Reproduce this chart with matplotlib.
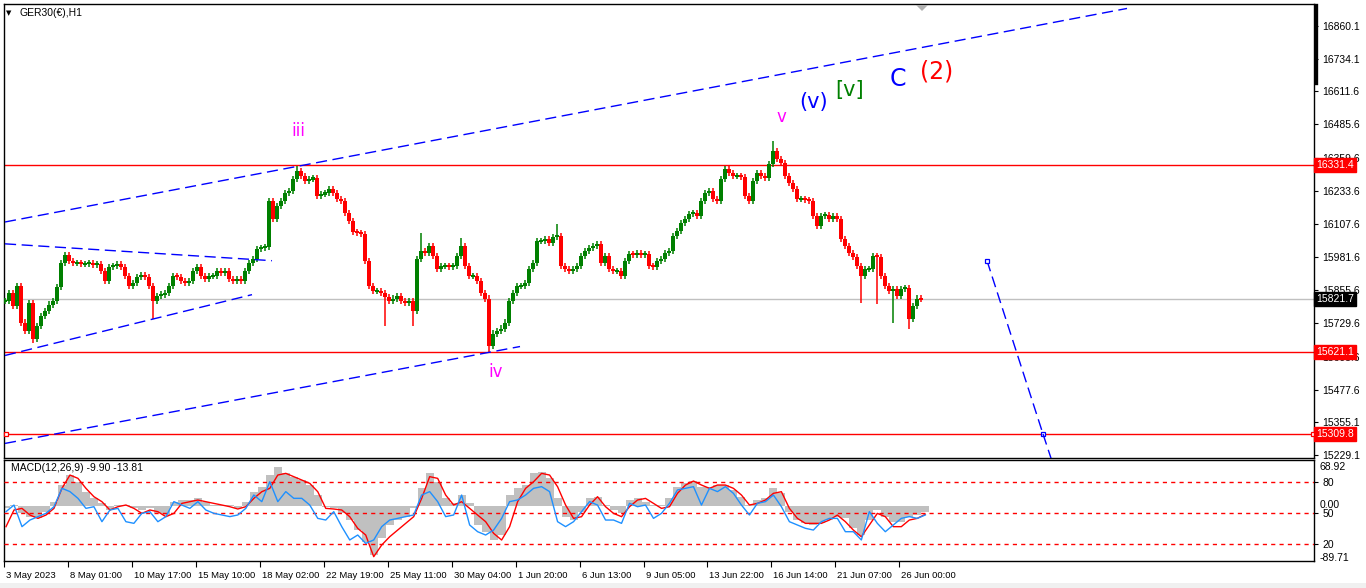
import numpy as np
import matplotlib
matplotlib.use("Agg")
import matplotlib.pyplot as plt
import matplotlib.transforms as mtransforms
from matplotlib.patches import Rectangle, Polygon
from matplotlib.lines import Line2D

plt.rcParams['font.family'] = ['Liberation Sans', 'DejaVu Sans']

# ---------------- data (4-hour aggregated closes) ----------------
closes = [
    15816, 15846, 15797, 15873, 15733, 15702, 15808, 15672, 15721, 15759,
    15778, 15801, 15816, 15869, 15960, 15990, 15968, 15960, 15960, 15956,
    15956, 15960, 15952, 15956, 15930, 15892, 15945, 15949, 15956, 15945,
    15911, 15873, 15884, 15907, 15914, 15907, 15873, 15816, 15835, 15839,
    15846, 15873, 15911, 15907, 15892, 15884, 15892, 15930, 15945, 15911,
    15899, 15911, 15911, 15930, 15922, 15930, 15899, 15892, 15899, 15892,
    15930, 15960, 15975, 16013, 16017, 16021, 16195, 16127, 16176, 16195,
    16225, 16233, 16278, 16309, 16290, 16271, 16278, 16282, 16214, 16221,
    16225, 16240, 16225, 16203, 16195, 16150, 16119, 16077, 16074, 16070,
    15968, 15873, 15854, 15854, 15846, 15831, 15816, 15824, 15835, 15816,
    15808, 15816, 15778, 15975, 16005, 15998, 16024, 15986, 15937, 15949,
    15949, 15945, 15949, 15986, 16024, 15949, 15911, 15911, 15892, 15846,
    15824, 15645, 15691, 15702, 15710, 15733, 15816, 15846, 15873, 15873,
    15884, 15937, 15960, 16043, 16043, 16051, 16036, 16059, 16062, 15949,
    15937, 15930, 15937, 15949, 15986, 16005, 16017, 16024, 16032, 15960,
    15986, 15937, 15930, 15930, 15911, 15968, 15994, 15990, 15998, 15990,
    15994, 15949, 15945, 15968, 15975, 15998, 16005, 16062, 16081, 16112,
    16127, 16146, 16150, 16138, 16195, 16225, 16233, 16203, 16195, 16278,
    16316, 16301, 16290, 16290, 16286, 16214, 16195, 16271, 16301, 16290,
    16282, 16335, 16385, 16354, 16339, 16290, 16263, 16240, 16203, 16203,
    16199, 16195, 16138, 16100, 16138, 16142, 16127, 16138, 16127, 16051,
    16024, 15998, 15983, 15949, 15911, 15937, 15937, 15986, 15983, 15911,
    15873, 15854, 15861, 15835, 15861, 15865, 15748, 15797, 15824, 15821.7,
]
spike_low_idx = [7, 37, 95, 102, 121, 214, 218, 222, 226]
spike_low_val = [15657, 15748, 15721, 15720, 15621, 15808, 15805, 15730, 15710]
spike_high_idx = [73, 104, 114, 138, 192]
spike_high_val = [16328, 16074, 16055, 16108, 16422]

macd_main = [
    -4.3, 1.1, -12.3, -17.6, -20.3, -9.6, 6.4, 33.1, 49.1, 38.4, 22.4, 11.7, 3.7, -6.9, 1.1,
    1.1, -4.3, -6.9, -4.3, -12.3, -15.0, 6.4, 9.1, 9.1, 11.7, 6.4, 1.1, 1.1, 1.1, -4.3,
    6.4, 22.4, 30.4, 49.1, 62.5, 51.8, 46.5, 41.1, 33.1, 17.1, -1.6, -4.3, -12.3, -23.0, -39.0,
    -57.7, -79.0, -52.3, -31.0, -23.0, -17.6, -4.3, 27.8, 51.8, 38.4, 11.7, 3.7, 17.1, 3.7,
    -31.0, -41.7, -55.0, -47.0, 17.1, 27.8, 33.1, 51.8, 54.5, 43.8, 11.7, -17.6, -23.0, -9.6,
    11.7, 14.4, 1.1, -6.9, -12.3, 9.1, 11.7, 6.4, 1.1, 1.1, 11.7, 30.4, 35.8, 39.5, 30.4, 30.4,
    33.1, 33.1, 25.1, 14.4, 1.1, 9.1, 11.7, 27.8, 19.8, -9.6, -23.0, -28.3, -31.0, -28.3, -23.0,
    -17.6, -20.3, -36.3, -47.0, -23.0, -6.9, -17.6, -25.6, -25.6, -17.6, -15.0, -9.9,
]
macd_signal = [
    -33.6, -6.9, -4.3, -15.0, -20.3, -15.0, -4.3, 27.8, 49.1, 43.8, 27.8, 14.4, 6.4, -6.9, -1.6,
    1.1, -4.3, -12.3, -6.9, -9.6, -17.6, -12.3, 3.7, 6.4, 9.1, 6.4, 3.7, 1.1, -1.6, -5.3,
    -1.6, 11.7, 22.4, 27.8, 49.1, 51.8, 46.5, 41.1, 35.8, 22.4, -4.3, -5.3, -6.9, -17.6, -36.3,
    -47.0, -81.7, -63.0, -49.7, -39.0, -28.3, -17.6, 11.7, 46.5, 43.8, 17.1, 1.1, 6.4, -4.3,
    -15.0, -25.6, -44.3, -55.0, -33.6, 6.4, 27.8, 38.4, 51.8, 49.1, 30.4, 1.1, -20.3, -17.6,
    1.1, 14.4, -1.6, -12.3, -17.6, -1.6, 9.1, 11.7, 3.7, -4.3, -1.6, 19.8, 33.1, 39.5, 33.1, 27.8,
    33.1, 33.1, 27.8, 17.1, 1.1, 3.7, 9.1, 19.8, 22.4, -4.3, -20.3, -28.3, -28.3, -28.3, -23.0,
    -15.0, -25.6, -39.0, -49.7, -31.0, -12.3, -17.6, -33.6, -33.6, -23.0, -20.3, -13.8,
]
osc_line = [
    51.3, 57.7, 36.8, 43.2, 46.5, 49.7, 56.1, 73.9, 70.7, 64.2, 54.5, 56.1, 41.6, 52.9, 54.5,
    41.6, 40.0, 49.7, 51.3, 41.6, 46.5, 61.0, 57.7, 54.5, 61.0, 52.9, 49.7, 48.1, 46.5, 48.1,
    54.5, 67.4, 61.0, 80.3, 61.0, 70.7, 64.2, 64.2, 57.7, 44.8, 43.2, 51.3, 36.8, 23.9, 28.7,
    20.6, 23.9, 36.8, 43.2, 44.8, 46.5, 48.1, 67.4, 70.7, 61.0, 46.5, 48.1, 67.4, 38.4,
    31.9, 28.7, 33.5, 44.8, 61.0, 62.6, 67.4, 73.9, 75.5, 70.7, 41.6, 36.8, 41.6, 51.3,
    61.0, 57.7, 43.2, 43.2, 40.0, 59.4, 56.1, 57.7, 44.8, 49.7, 59.4, 72.3, 73.9, 75.5, 57.7, 73.9,
    70.7, 75.5, 69.0, 57.7, 48.1, 59.4, 61.0, 67.4, 56.1, 41.6, 38.4, 35.2, 33.5, 41.6, 44.8,
    44.8, 31.9, 31.9, 23.9, 51.3, 40.0, 31.9, 38.4, 44.8, 46.5, 44.8, 48.1,
]

price_ticks = [16860.1, 16734.1, 16611.6, 16485.6, 16359.6, 16233.6, 16107.6, 15981.6,
               15855.6, 15729.6, 15603.6, 15477.6, 15355.1, 15229.1]
red_levels = [16331.4, 15621.1, 15309.8]
last_price = 15821.7
date_labels = ['3 May 2023', '8 May 01:00', '10 May 17:00', '15 May 10:00', '18 May 02:00',
               '22 May 19:00', '25 May 11:00', '30 May 04:00', '1 Jun 20:00', '6 Jun 13:00',
               '9 Jun 05:00', '13 Jun 22:00', '16 Jun 14:00', '21 Jun 07:00', '26 Jun 00:00']

# trendlines: (bar index, price) anchors
upper_channel = ([0, 280.5], [16115, 16926])
lower_channel = ([0, 128.75], [15274, 15642])
wedge_top = ([0, 66.75], [16032, 15968])
wedge_bottom = ([0, 61.75], [15608, 15839])
projection = ([245.5, 259.5], [15968, 15309.8])
projection_tail = ([259.5, 262.5], [15309.8, 15172])

wave_text = ['iii', 'iv', 'v', '(v)', '[v]', 'C', '(2)']
wave_idx = [73.25, 122.75, 194, 202.25, 211.25, 223.25, 233]
wave_price = [16460, 15545, 16515, 16572, 16616, 16658, 16688]
wave_color = ['#ff00ff', '#ff00ff', '#ff00ff', '#0000ff', '#008000', '#0000ff', '#ff0000']
wave_size = [12, 12, 12, 15, 15, 17, 17]

# ---------------- figure ----------------
W, H = 1366, 588
fig = plt.figure(figsize=(W / 100, H / 100), dpi=100)
fig.patch.set_facecolor('white')


def frac(x0, y0, x1, y1):
    return [x0 / W, 1 - y1 / H, (x1 - x0) / W, (y1 - y0) / H]


ax = fig.add_axes(frac(4, 4, 1314, 458))
axm = fig.add_axes(frac(4, 460, 1314, 561))
xlim = (-0.25, 327.25)
ax.set_xlim(*xlim)
axm.set_xlim(*xlim)
ax.set_ylim(15218.6, 16942.9)

for a in (ax, axm):
    for s in a.spines.values():
        s.set_color('black')
        s.set_linewidth(1.0)

# candles
c = np.array(closes, dtype=float)
o = np.r_[c[0], c[:-1]]
xi = np.arange(len(c))
hi = np.maximum(o, c) + 12
lo = np.minimum(o, c) - 12
for i, v in zip(spike_low_idx, spike_low_val):
    lo[i] = min(lo[i], v)
for i, v in zip(spike_high_idx, spike_high_val):
    hi[i] = max(hi[i], v)
cols = np.where(c >= o, '#008000', '#ff0000')
ax.vlines(xi, lo, hi, colors=cols, lw=1.1, zorder=3)
body = np.maximum(np.abs(c - o), 8)
ax.bar(xi, body, bottom=np.minimum(o, c) - (body - np.abs(c - o)) / 2, width=0.85,
       color=cols, lw=0, zorder=3)

# horizontal lines
for lv in red_levels:
    ax.axhline(lv, color='#ff0000', lw=1.0, zorder=2)
ax.axhline(last_price, color='#c0c0c0', lw=1.0, zorder=1)
ax.plot([xlim[0] + 0.5, xlim[1] - 0.3], [red_levels[2]] * 2, ls='none', marker='s', ms=3.5,
        mfc='white', mec='#ff0000', mew=0.9, zorder=4, clip_on=False)

# trendlines
dash = (0, (8, 4))
for (xs, ys) in (upper_channel, lower_channel, wedge_top, wedge_bottom):
    ax.plot(xs, ys, color='#0000ff', lw=1.0, ls=dash, zorder=4)
ax.plot(*projection, color='#0000ff', lw=1.0, ls=dash, zorder=4, marker='s', ms=3.5,
        mfc='white', mec='#0000ff', mew=0.9)
ax.plot(*projection_tail, color='#0000ff', lw=1.0, ls=dash, zorder=4)

# wave labels
for t, xx, yy, col, fs in zip(wave_text, wave_idx, wave_price, wave_color, wave_size):
    ax.text(xx, yy, t, color=col, fontsize=fs, ha='center', va='center', zorder=5,
            family=['DejaVu Sans'])

# y axis on right
ax.yaxis.tick_right()
ax.set_yticks(price_ticks)
ax.set_yticklabels([f'{v:.1f}' for v in price_ticks], fontsize=7.5)
ax.tick_params(axis='y', length=3, width=0.8, pad=3, colors='black', direction='out')
ax.set_xticks([])

trans = mtransforms.blended_transform_factory(ax.transAxes, ax.transData)
for lv in red_levels:
    ax.text(1.0016, lv, f'{lv:.1f}', transform=trans, fontsize=7.5, color='white',
            ha='left', va='center', zorder=10, clip_on=False,
            bbox=dict(boxstyle='square,pad=0.18', fc='#ff0000', ec='#ff0000'))
ax.text(1.0016, last_price, f'{last_price:.1f}', transform=trans, fontsize=7.5, color='white',
        ha='left', va='center', zorder=10, clip_on=False,
        bbox=dict(boxstyle='square,pad=0.18', fc='black', ec='black'))

# header
fig.text(6 / W, 1 - 13 / H, '\u25bc', fontsize=5, va='center', ha='left', family=['DejaVu Sans'])
fig.text(20 / W, 1 - 13 / H, 'GER30(\u20ac),H1', fontsize=7.5, va='center', ha='left')

# chart-shift marker and price-scale marker
fig.patches.append(Polygon([(916 / W, 1 - 5 / H), (928 / W, 1 - 5 / H), (922 / W, 1 - 11 / H)],
                           closed=True, transform=fig.transFigure, fc='#b0b0b0', ec='none'))
fig.lines.append(Line2D([1316 / W, 1316 / W], [1 - 5 / H, 1 - 83 / H], transform=fig.transFigure,
                        color='black', lw=2.4))
fig.patches.append(Rectangle((0, 0), 1, 5 / H, transform=fig.transFigure, fc='#f0f0f0', ec='none'))

# ---------------- MACD panel ----------------
xm = np.arange(len(macd_main)) * 2
axm.set_ylim(-88.6, 73.2)
axm.bar(xm, macd_main, width=2.0, color='#c0c0c0', lw=0, zorder=1)
axm.plot(xm, macd_signal, color='#ff0000', lw=1.0, zorder=3)
axm.set_yticks([])

axo = axm.twinx()
axo.set_xlim(*xlim)
axo.set_ylim(3.55, 101.3)
for lvl in (80, 50, 20):
    axo.axhline(lvl, color='#ff0000', lw=1.0, ls=(0, (3, 3)), zorder=2)
axo.plot(xm, osc_line, color='#1e90ff', lw=1.0, zorder=4)
axo.set_yticks([80, 50, 20])
axo.set_yticklabels(['80', '50', '20'], fontsize=7.5)
axo.tick_params(axis='y', length=3, width=0.8, pad=3, direction='out')
for s in axo.spines.values():
    s.set_visible(False)

axm.text(0.005, 0.92, 'MACD(12,26,9) -9.90 -13.81', transform=axm.transAxes, fontsize=7.5,
         va='center', ha='left', zorder=6)
fig.text(1320 / W, 1 - 467 / H, '68.92', fontsize=7.5, va='center', ha='left')
fig.text(1320 / W, 1 - 505 / H, '0.00', fontsize=7.5, va='center', ha='left')
fig.text(1320 / W, 1 - 558 / H, '-89.71', fontsize=7.5, va='center', ha='left')

# x axis (dates)
tick_pos = [-0.5 + 16 * k for k in range(len(date_labels))]
axm.set_xticks(tick_pos)
axm.set_xticklabels(date_labels, fontsize=6.8, ha='left')
axm.tick_params(axis='x', length=4, width=0.8, pad=3, direction='out')
offset = mtransforms.ScaledTranslation(2 / 100, 0, fig.dpi_scale_trans)
for lab in axm.get_xticklabels():
    lab.set_transform(lab.get_transform() + offset)

fig.savefig('out.png', dpi=100, facecolor='white')
